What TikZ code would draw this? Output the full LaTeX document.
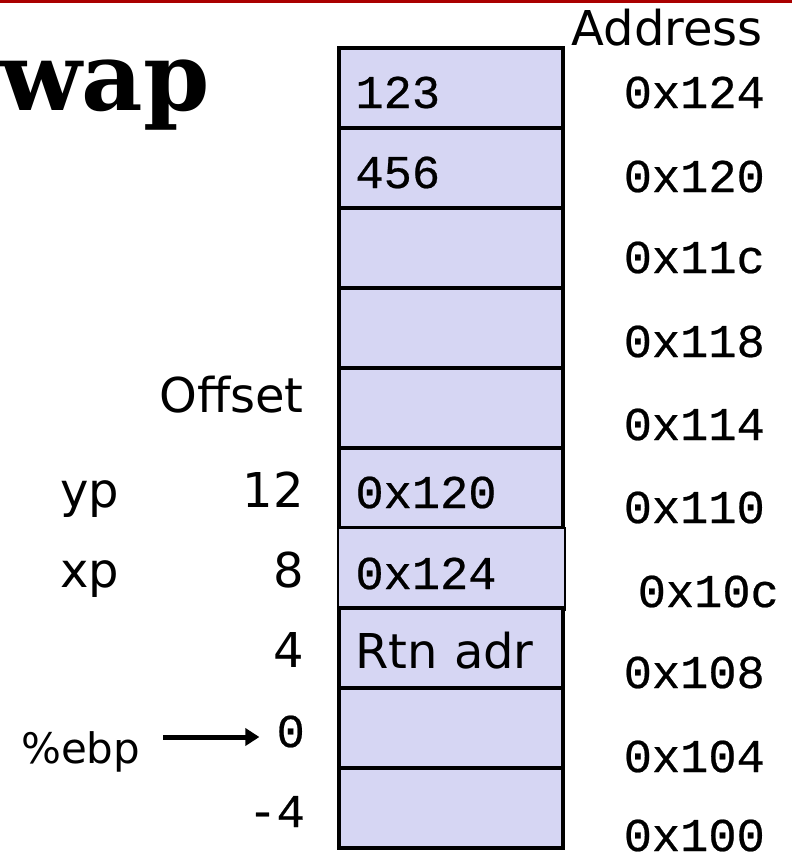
\documentclass[tikz,border=0pt]{standalone}
\usepackage{fontspec}
\setmainfont{DejaVu Sans}
\newfontfamily\monofont{Liberation Mono}[FakeBold=0.5]
\newfontfamily\titlefont{DejaVu Serif}
\usetikzlibrary{arrows.meta}
\definecolor{cellfill}{RGB}{214,214,243}
\definecolor{rulered}{RGB}{170,0,0}

\begin{document}
\begin{tikzpicture}[x=1pt,y=-1pt,
  cell/.style={draw=black, line width=4.5pt, fill=cellfill, outer sep=0pt,
    minimum width=224pt, minimum height=80pt, text width=191pt,
    inner xsep=16.5pt, inner ysep=0pt, align=left, text height=40pt,
    text depth=0pt, anchor=north west,
    font=\monofont\fontsize{47}{50}\selectfont},
  thincell/.style={cell, line width=2pt, minimum width=227pt,
    minimum height=82pt, text width=192pt, inner xsep=17.5pt},
  sanscell/.style={font=\normalfont\fontsize{48}{52}\selectfont},
  addr/.style={anchor=base east, inner sep=0pt,
    font=\monofont\fontsize{47}{50}\selectfont},
  lbl/.style={anchor=base east, inner sep=0pt,
    font=\fontsize{48}{52}\selectfont},
  monolbl/.style={anchor=base east, inner sep=0pt,
    font=\monofont\fontsize{47}{50}\selectfont},
  var/.style={anchor=base west, inner sep=0pt,
    font=\fontsize{48}{52}\selectfont},
  ptr/.style={line width=5pt, -{Triangle[length=14pt,width=17pt]}}]

\useasboundingbox (0,0) rectangle (792,857);

% rule along the top edge
\fill[rulered] (0,0) rectangle (792,2.5);

% title
\node[anchor=base west, inner sep=0pt,
  font=\titlefont\bfseries\fontsize{95}{100}\selectfont] (title) at (0,110) {wap};

% stack cells, top to bottom
\node[cell] (c124) at (339,48)  {123};
\node[cell] (c120) at (339,128) {456};
\node[cell] (c11c) at (339,208) {};
\node[cell] (c118) at (339,288) {};
\node[cell] (c114) at (339,368) {};
\node[cell] (c110) at (339,448) {0x120};
\node[thincell] (c10c) at (338,528) {0x124};
\node[cell, sanscell] (c108) at (339,608) {Rtn adr};
\node[cell] (c104) at (339,688) {};
\node[cell] (c100) at (339,768) {};

% address column
\node[anchor=base east, inner sep=0pt, font=\fontsize{48}{52}\selectfont]
  (addrhead) at (763,45) {Address};
\node[addr] (a124) at (765,108) {0x124};
\node[addr] (a120) at (765,192) {0x120};
\node[addr] (a11c) at (765,273) {0x11c};
\node[addr] (a118) at (765,357) {0x118};
\node[addr] (a114) at (765,440) {0x114};
\node[addr] (a110) at (765,523) {0x110};
\node[addr] (a10c) at (779,607) {0x10c};
\node[addr] (a108) at (765,688) {0x108};
\node[addr] (a104) at (765,772) {0x104};
\node[addr] (a100) at (765,851) {0x100};

% offset column
\node[lbl] (offhead) at (304,412) {Offset};
\node[lbl] (off12) at (304,507) {12};
\node[lbl] (off8)  at (304,587) {8};
\node[lbl] (off4)  at (304,667) {4};
\node[monolbl] (off0)  at (305,747) {0};
\node[monolbl] (offm4) at (305,827) {-4};

% argument names and frame pointer
\node[var] (yp) at (60,507) {yp};
\node[var] (xp) at (60,587) {xp};
\node[var, font=\fontsize{42}{46}\selectfont] (ebp) at (21,763) {\%ebp};

\draw[ptr] ([xshift=23pt]ebp.east |- 0,737) -- ([xshift=-17pt]off0.west |- 0,737);
\end{tikzpicture}
\end{document}
